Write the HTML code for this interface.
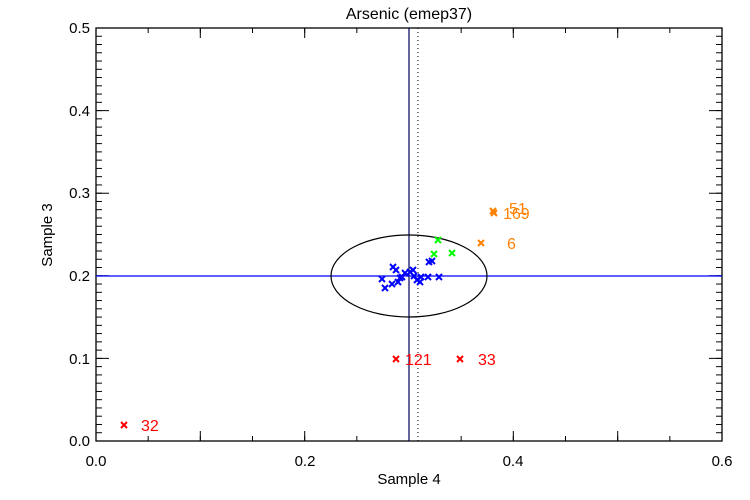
<!DOCTYPE html><html><head><style>body{margin:0;background:#fff}svg{display:block}text{font-family:"Liberation Sans",sans-serif}</style></head><body>
<svg width="750" height="500" xmlns="http://www.w3.org/2000/svg">
<defs>
<pattern id="yt" patternUnits="userSpaceOnUse" x="0" y="440.5" width="800" height="8.26"><line x1="0" y1="0.5" x2="800" y2="0.5" stroke="#000" stroke-width="1"/></pattern>
<pattern id="xt" patternUnits="userSpaceOnUse" x="95.5" y="0" width="52.167" height="600"><line x1="0.5" y1="0" x2="0.5" y2="600" stroke="#000" stroke-width="1"/></pattern>
<g id="x"><path d="M-3 -3L3 3M-3 3L3 -3" stroke-width="2"/></g>
</defs>
<rect width="750" height="500" fill="#fff"/>
<text x="409" y="19" font-size="16" text-anchor="middle">Arsenic (emep37)</text>
<rect x="96" y="28" width="6" height="414" fill="url(#yt)"/>
<rect x="716" y="28" width="6" height="414" fill="url(#yt)"/>
<rect x="96" y="436" width="627" height="5" fill="url(#xt)"/>
<rect x="96" y="28" width="627" height="5" fill="url(#xt)"/>
<g stroke="#000" stroke-width="1">
<path d="M96 358.4h13M96 275.8h13M96 193.2h13M96 110.6h13M722 358.4h-13M722 275.8h-13M722 193.2h-13M722 110.6h-13"/>
<path d="M200.3 441v-10M304.7 441v-10M409 441v-10M513.3 441v-10M617.7 441v-10M200.3 28v10M304.7 28v10M409 28v10M513.3 28v10M617.7 28v10"/>
</g>
<rect x="96" y="28" width="626" height="413" fill="none" stroke="#000" stroke-width="1.3"/>
<g font-size="15" fill="#000">
<text x="96" y="466" text-anchor="middle">0.0</text>
<text x="305" y="466" text-anchor="middle">0.2</text>
<text x="513" y="466" text-anchor="middle">0.4</text>
<text x="722" y="466" text-anchor="middle">0.6</text>
<g text-anchor="end">
<text x="90" y="446">0.0</text>
<text x="90" y="364">0.1</text>
<text x="90" y="281">0.2</text>
<text x="90" y="198">0.3</text>
<text x="90" y="116">0.4</text>
<text x="90" y="33">0.5</text>
</g>
<text x="409" y="484" text-anchor="middle">Sample 4</text>
<text x="52" y="235" text-anchor="middle" transform="rotate(-90 52 235)">Sample 3</text>
</g>
<line x1="409" y1="28" x2="409" y2="441" stroke="#000060" stroke-width="1.2"/>
<line x1="418" y1="28" x2="418" y2="441" stroke="#000" stroke-dasharray="1,3"/>
<line x1="96" y1="276" x2="722" y2="276" stroke="#0000ff" stroke-width="1.2"/>
<ellipse cx="409" cy="276" rx="78" ry="41" fill="none" stroke="#000" stroke-width="1.2"/>
<g stroke="#f00"><use href="#x" x="124" y="425"/><use href="#x" x="396" y="359"/><use href="#x" x="460" y="359"/></g>
<g stroke="#ff8000"><use href="#x" x="493" y="211"/><use href="#x" x="494" y="213"/><use href="#x" x="481" y="243"/></g>
<g stroke="#00ff00"><use href="#x" x="438" y="240"/><use href="#x" x="434" y="254"/><use href="#x" x="452" y="253"/></g>
<g stroke="#0000ff">
<use href="#x" x="382" y="279"/><use href="#x" x="385" y="288"/><use href="#x" x="393" y="267"/><use href="#x" x="396" y="270"/><use href="#x" x="402" y="277"/><use href="#x" x="405" y="273"/><use href="#x" x="410" y="272"/><use href="#x" x="413" y="270"/><use href="#x" x="417" y="280"/><use href="#x" x="421" y="277"/><use href="#x" x="429" y="262"/><use href="#x" x="432" y="261"/><use href="#x" x="428" y="277"/><use href="#x" x="439" y="277"/><use href="#x" x="400" y="278"/><use href="#x" x="398" y="282"/><use href="#x" x="392" y="284"/><use href="#x" x="420" y="282"/><use href="#x" x="414" y="276"/>
</g>
<g font-size="16">
<text x="141" y="431" fill="#f00">32</text>
<text x="405" y="365" fill="#f00">121</text>
<text x="478" y="365" fill="#f00">33</text>
<text x="507" y="249" fill="#ff8000">6</text>
<text x="503" y="219" fill="#ff8000">169</text>
<text x="509" y="214" fill="#ff8000">51</text>
</g>
</svg></body></html>
